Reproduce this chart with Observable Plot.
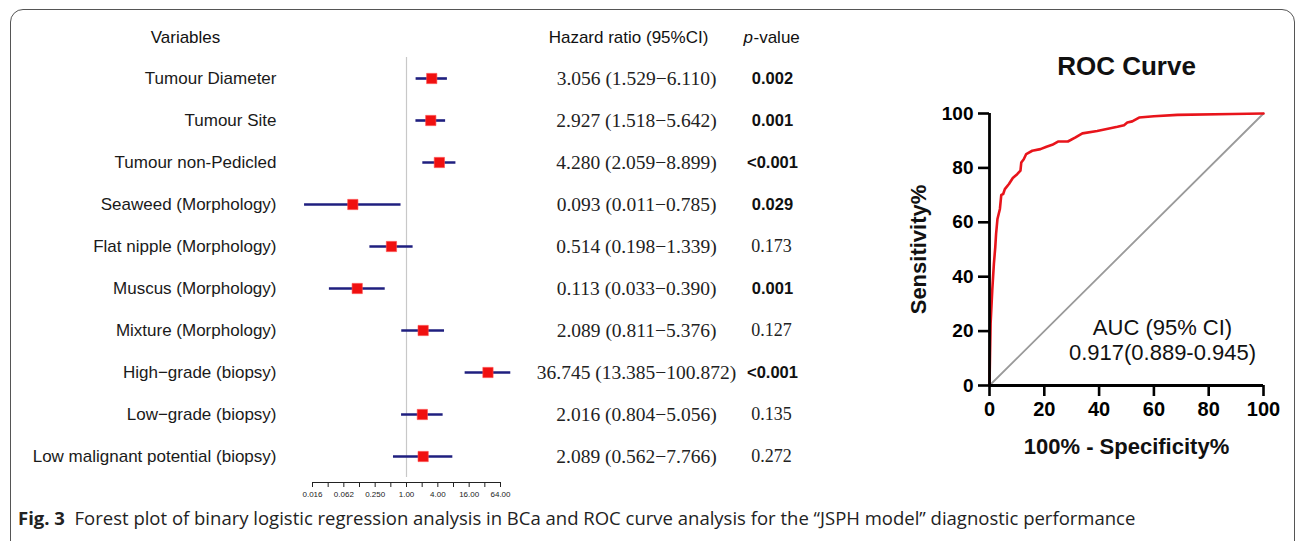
<!DOCTYPE html>
<html><head><meta charset="utf-8">
<script src="https://cdn.jsdelivr.net/npm/d3@7"></script>
<script src="https://cdn.jsdelivr.net/npm/@observablehq/plot@0.6"></script>
<style>
body{margin:0;background:#fff;width:1298px;height:541px;overflow:hidden;position:relative;}
#frame{position:absolute;left:10px;top:9px;width:1285px;height:560px;border:1px solid #555;border-radius:13px;box-sizing:border-box;}
#forest{position:absolute;left:0;top:0}
#roc{position:absolute;left:890px;top:40px}
#caption{position:absolute;left:18px;top:505px;font-family:"Open Sans",sans-serif;font-size:18.5px;color:#222;white-space:nowrap}
#caption b{font-weight:700}
</style></head><body>
<div id="frame"></div><div id="forest"></div><div id="roc"></div>
<div id="caption"><b>Fig. 3</b>&nbsp; Forest plot of binary logistic regression analysis in BCa and ROC curve analysis for the “JSPH model” diagnostic performance</div>
<script>
// ---- forest plot data ----
const variables = ["Tumour Diameter","Tumour Site","Tumour non-Pedicled","Seaweed (Morphology)","Flat nipple (Morphology)","Muscus (Morphology)","Mixture (Morphology)","High−grade (biopsy)","Low−grade (biopsy)","Low malignant potential (biopsy)"];
const hr = [3.056,2.927,4.280,0.093,0.514,0.113,2.089,36.745,2.016,2.089];
const ciLow = [1.529,1.518,2.059,0.011,0.198,0.033,0.811,13.385,0.804,0.562];
const ciHigh = [6.110,5.642,8.899,0.785,1.339,0.390,5.376,100.872,5.056,7.766];
const pValues = ["0.002","0.001","<0.001","0.029","0.173","0.001","0.127","<0.001","0.135","0.272"];
const xTicks = [1/64,1/32,1/16,1/8,1/4,1/2,1,2,4,8,16,32,64];
const xTickLabels = ["0.016","","0.062","","0.250","","1.00","","4.00","","16.00","","64.00"];

// ---- ROC data ----
const rocFpr = [0,0.2,0.4,1.0,1.6,2.1,2.4,2.9,3.8,4.3,5.0,5.6,7.1,8.5,10.1,11.3,11.6,12.5,13.4,15.6,18.6,20.8,22.9,25.0,28.6,31.4,33.9,39.3,46.7,49.1,50.3,52.1,54.6,60.0,68.6,88.7,100];
const rocTpr = [0,12,22.6,34.9,44.7,50.8,55.7,61.2,64.9,70.1,70.4,72.2,74.1,76.3,77.7,79.0,82.0,83.2,85.1,86.3,86.9,87.8,88.5,89.7,89.7,91.2,92.7,93.6,95.1,95.7,96.7,97.1,98.5,99.0,99.5,99.8,100];
const chance = [0,100];
const rocTicks = [0,20,40,60,80,100];
const auc = [0.917,0.889,0.945];

const rows = variables.map((v,i)=>({
  variable:v, hr:hr[i], lo:ciLow[i], hi:ciHigh[i], p:pValues[i],
  ci:`${hr[i].toFixed(3)} (${ciLow[i].toFixed(3)}−${ciHigh[i].toFixed(3)})`,
  sig: parseFloat(pValues[i].replace("<","")) < 0.05
}));
const rocPts = rocFpr.map((f,i)=>({fpr:f, tpr:rocTpr[i]}));
const tickLabel = d => xTickLabels[xTicks.indexOf(d)] ?? "";

const sans = "Liberation Sans, Arial, Helvetica, sans-serif";
const serif = "Liberation Serif, Times New Roman, serif";
const mid = {textAnchor: "middle", lineAnchor: "middle"};

const forest = Plot.plot({
  width: 830, height: 510,
  marginTop: 52, marginBottom: 28, marginLeft: 312, marginRight: 330,
  style: {fontFamily: sans, overflow: "visible", background: "transparent"},
  x: {type: "log", base: 2, domain: [1/64, 64]},
  y: {type: "point", domain: variables, range: [77, 457], padding: 0},
  marks: [
    Plot.ruleX([1], {stroke: "#c8c8c8", strokeWidth: 1.2, insetTop: 5, insetBottom: 5}),
    Plot.frame({anchor: "bottom", stroke: "#222"}),
    Plot.axisX({ticks: xTicks, tickFormat: tickLabel, tickSize: 5, tickPadding: 4, fontSize: 8, color: "#222", label: null}),
    Plot.axisY({tickSize: 0, tickPadding: 36, fontSize: 17, color: "#1a1a1a", label: null}),
    Plot.ruleY(rows, {y: "variable", x1: "lo", x2: "hi", stroke: "#1f1f7f", strokeWidth: 2.6}),
    Plot.dot(rows, {x: "hr", y: "variable", symbol: "square", r: 5.8, fill: "#f01010", stroke: "#ff5050", strokeWidth: 0.6}),
    Plot.text(rows, {y: "variable", text: "ci", frameAnchor: "right", dx: 136, ...mid, fontFamily: serif, fontSize: 19.5, fill: "#222"}),
    Plot.text(rows.filter(d => d.sig), {y: "variable", text: "p", frameAnchor: "right", dx: 272, ...mid, fontFamily: sans, fontWeight: "bold", fontSize: 16.5, fill: "#111"}),
    Plot.text(rows.filter(d => !d.sig), {y: "variable", text: "p", frameAnchor: "right", dx: 271, ...mid, fontFamily: serif, fontSize: 18, fill: "#222"}),
    Plot.text(["Variables"], {text: d => d, frameAnchor: "top-left", dx: -127, dy: -15, ...mid, fontSize: 17, fill: "#111"}),
    Plot.text(["Hazard ratio (95%CI)"], {text: d => d, frameAnchor: "top-left", dx: 316, dy: -15, ...mid, fontSize: 17, fill: "#111"}),
    Plot.text(["p"], {text: d => d, frameAnchor: "top-left", dx: 431, dy: -15, textAnchor: "start", lineAnchor: "middle", fontStyle: "italic", fontSize: 17, fill: "#111"}),
    Plot.text(["-value"], {text: d => d, frameAnchor: "top-left", dx: 441, dy: -15, textAnchor: "start", lineAnchor: "middle", fontSize: 17, fill: "#111"})
  ]
});
document.getElementById("forest").append(forest);

const aucText = `AUC (95% CI)\n${auc[0].toFixed(3)}(${auc[1].toFixed(3)}-${auc[2].toFixed(3)})`;
const roc = Plot.plot({
  width: 400, height: 440,
  marginTop: 73, marginBottom: 95, marginLeft: 99, marginRight: 27,
  style: {fontFamily: sans, overflow: "visible", background: "transparent"},
  x: {domain: [0, 100]},
  y: {domain: [0, 100]},
  marks: [
    Plot.line(chance, {x: d => d, y: d => d, stroke: "#9a9a9a", strokeWidth: 1.8}),
    Plot.line(rocPts, {x: "fpr", y: "tpr", stroke: "#e8141b", strokeWidth: 2.6, strokeLinejoin: "round"}),
    Plot.ruleX([0], {stroke: "#000", strokeWidth: 2.8}),
    Plot.ruleY([0], {stroke: "#000", strokeWidth: 2.8}),
    Plot.axisX({ticks: rocTicks, tickSize: 11, tickPadding: 5, fontSize: 20, fontWeight: "bold", strokeWidth: 2.6, color: "#000", label: null}),
    Plot.axisY({ticks: rocTicks, tickSize: 11, tickPadding: 5, fontSize: 19, fontWeight: "bold", strokeWidth: 2.6, color: "#000", label: null}),
    Plot.text(["ROC Curve"], {text: d => d, frameAnchor: "top", dy: -47, ...mid, fontSize: 26, fontWeight: "bold", fill: "#111"}),
    Plot.text(["Sensitivity%"], {text: d => d, frameAnchor: "left", dx: -71, rotate: -90, ...mid, fontSize: 22, fontWeight: "bold", fill: "#111"}),
    Plot.text(["100% - Specificity%"], {text: d => d, frameAnchor: "bottom", dy: 61, ...mid, fontSize: 22, fontWeight: "bold", fill: "#111"}),
    Plot.text([aucText], {text: d => d, frameAnchor: "bottom-right", dx: -101, dy: -46, ...mid, fontSize: 22, lineHeight: 1.14, fill: "#111"})
  ]
});
document.getElementById("roc").append(roc);
</script>
</body></html>
